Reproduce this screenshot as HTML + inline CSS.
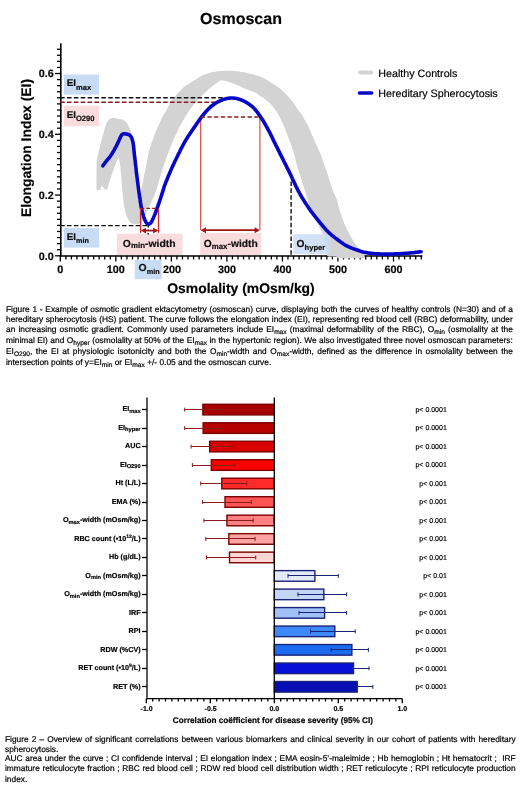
<!DOCTYPE html>
<html><head><meta charset="utf-8"><style>
html,body{margin:0;padding:0;background:#fff;}
body{width:520px;height:799px;position:relative;overflow:hidden;font-family:"Liberation Sans",sans-serif;text-rendering:geometricPrecision;}
svg{position:absolute;left:0;top:0;will-change:transform;}
svg text{font-family:"Liberation Sans",sans-serif;stroke:#000;stroke-width:0.18px;}
.cl{position:absolute;will-change:transform;font-size:8.35px;line-height:10px;height:10px;white-space:nowrap;color:#000;-webkit-text-stroke:0.2px #000;}
.cl.j{text-align:justify;text-align-last:justify;white-space:nowrap;}
.cl sub{font-size:6.6px;vertical-align:-1.7px;line-height:0;}
</style></head><body>
<svg width="520" height="799" viewBox="0 0 520 799">

<text x="241" y="24.2" font-size="16" font-weight="bold" text-anchor="middle">Osmoscan</text>
<!-- axes -->
<g stroke="#000" stroke-width="1.3">
<line x1="60.8" y1="43.2" x2="60.8" y2="256.6" stroke-width="1.6"/>
<line x1="60" y1="256" x2="422.4" y2="256" stroke-width="1.6"/>
<line x1="55.0" y1="255.80" x2="61" y2="255.80"/>
<line x1="57.0" y1="249.72" x2="61" y2="249.72"/>
<line x1="57.0" y1="243.65" x2="61" y2="243.65"/>
<line x1="57.0" y1="237.57" x2="61" y2="237.57"/>
<line x1="57.0" y1="231.50" x2="61" y2="231.50"/>
<line x1="57.0" y1="225.42" x2="61" y2="225.42"/>
<line x1="57.0" y1="219.34" x2="61" y2="219.34"/>
<line x1="57.0" y1="213.27" x2="61" y2="213.27"/>
<line x1="57.0" y1="207.19" x2="61" y2="207.19"/>
<line x1="57.0" y1="201.12" x2="61" y2="201.12"/>
<line x1="55.0" y1="195.04" x2="61" y2="195.04"/>
<line x1="57.0" y1="188.96" x2="61" y2="188.96"/>
<line x1="57.0" y1="182.89" x2="61" y2="182.89"/>
<line x1="57.0" y1="176.81" x2="61" y2="176.81"/>
<line x1="57.0" y1="170.74" x2="61" y2="170.74"/>
<line x1="57.0" y1="164.66" x2="61" y2="164.66"/>
<line x1="57.0" y1="158.58" x2="61" y2="158.58"/>
<line x1="57.0" y1="152.51" x2="61" y2="152.51"/>
<line x1="57.0" y1="146.43" x2="61" y2="146.43"/>
<line x1="57.0" y1="140.36" x2="61" y2="140.36"/>
<line x1="55.0" y1="134.28" x2="61" y2="134.28"/>
<line x1="57.0" y1="128.20" x2="61" y2="128.20"/>
<line x1="57.0" y1="122.13" x2="61" y2="122.13"/>
<line x1="57.0" y1="116.05" x2="61" y2="116.05"/>
<line x1="57.0" y1="109.98" x2="61" y2="109.98"/>
<line x1="57.0" y1="103.90" x2="61" y2="103.90"/>
<line x1="57.0" y1="97.82" x2="61" y2="97.82"/>
<line x1="57.0" y1="91.75" x2="61" y2="91.75"/>
<line x1="57.0" y1="85.67" x2="61" y2="85.67"/>
<line x1="57.0" y1="79.60" x2="61" y2="79.60"/>
<line x1="55.0" y1="73.52" x2="61" y2="73.52"/>
<line x1="57.0" y1="67.44" x2="61" y2="67.44"/>
<line x1="57.0" y1="61.37" x2="61" y2="61.37"/>
<line x1="57.0" y1="55.29" x2="61" y2="55.29"/>
<line x1="57.0" y1="49.22" x2="61" y2="49.22"/>
<line x1="60.30" y1="255.8" x2="60.30" y2="261.5"/>
<line x1="65.85" y1="255.8" x2="65.85" y2="259.5"/>
<line x1="71.41" y1="255.8" x2="71.41" y2="259.5"/>
<line x1="76.96" y1="255.8" x2="76.96" y2="259.5"/>
<line x1="82.51" y1="255.8" x2="82.51" y2="259.5"/>
<line x1="88.06" y1="255.8" x2="88.06" y2="259.5"/>
<line x1="93.62" y1="255.8" x2="93.62" y2="259.5"/>
<line x1="99.17" y1="255.8" x2="99.17" y2="259.5"/>
<line x1="104.72" y1="255.8" x2="104.72" y2="259.5"/>
<line x1="110.28" y1="255.8" x2="110.28" y2="259.5"/>
<line x1="115.83" y1="255.8" x2="115.83" y2="261.5"/>
<line x1="121.38" y1="255.8" x2="121.38" y2="259.5"/>
<line x1="126.94" y1="255.8" x2="126.94" y2="259.5"/>
<line x1="132.49" y1="255.8" x2="132.49" y2="259.5"/>
<line x1="138.04" y1="255.8" x2="138.04" y2="259.5"/>
<line x1="143.59" y1="255.8" x2="143.59" y2="259.5"/>
<line x1="149.15" y1="255.8" x2="149.15" y2="259.5"/>
<line x1="154.70" y1="255.8" x2="154.70" y2="259.5"/>
<line x1="160.25" y1="255.8" x2="160.25" y2="259.5"/>
<line x1="165.81" y1="255.8" x2="165.81" y2="259.5"/>
<line x1="171.36" y1="255.8" x2="171.36" y2="261.5"/>
<line x1="176.91" y1="255.8" x2="176.91" y2="259.5"/>
<line x1="182.47" y1="255.8" x2="182.47" y2="259.5"/>
<line x1="188.02" y1="255.8" x2="188.02" y2="259.5"/>
<line x1="193.57" y1="255.8" x2="193.57" y2="259.5"/>
<line x1="199.12" y1="255.8" x2="199.12" y2="259.5"/>
<line x1="204.68" y1="255.8" x2="204.68" y2="259.5"/>
<line x1="210.23" y1="255.8" x2="210.23" y2="259.5"/>
<line x1="215.78" y1="255.8" x2="215.78" y2="259.5"/>
<line x1="221.34" y1="255.8" x2="221.34" y2="259.5"/>
<line x1="226.89" y1="255.8" x2="226.89" y2="261.5"/>
<line x1="232.44" y1="255.8" x2="232.44" y2="259.5"/>
<line x1="238.00" y1="255.8" x2="238.00" y2="259.5"/>
<line x1="243.55" y1="255.8" x2="243.55" y2="259.5"/>
<line x1="249.10" y1="255.8" x2="249.10" y2="259.5"/>
<line x1="254.66" y1="255.8" x2="254.66" y2="259.5"/>
<line x1="260.21" y1="255.8" x2="260.21" y2="259.5"/>
<line x1="265.76" y1="255.8" x2="265.76" y2="259.5"/>
<line x1="271.31" y1="255.8" x2="271.31" y2="259.5"/>
<line x1="276.87" y1="255.8" x2="276.87" y2="259.5"/>
<line x1="282.42" y1="255.8" x2="282.42" y2="261.5"/>
<line x1="287.97" y1="255.8" x2="287.97" y2="259.5"/>
<line x1="293.53" y1="255.8" x2="293.53" y2="259.5"/>
<line x1="299.08" y1="255.8" x2="299.08" y2="259.5"/>
<line x1="304.63" y1="255.8" x2="304.63" y2="259.5"/>
<line x1="310.19" y1="255.8" x2="310.19" y2="259.5"/>
<line x1="315.74" y1="255.8" x2="315.74" y2="259.5"/>
<line x1="321.29" y1="255.8" x2="321.29" y2="259.5"/>
<line x1="326.84" y1="255.8" x2="326.84" y2="259.5"/>
<line x1="332.40" y1="255.8" x2="332.40" y2="259.5"/>
<line x1="337.95" y1="255.8" x2="337.95" y2="261.5"/>
<line x1="343.50" y1="255.8" x2="343.50" y2="259.5"/>
<line x1="349.06" y1="255.8" x2="349.06" y2="259.5"/>
<line x1="354.61" y1="255.8" x2="354.61" y2="259.5"/>
<line x1="360.16" y1="255.8" x2="360.16" y2="259.5"/>
<line x1="365.72" y1="255.8" x2="365.72" y2="259.5"/>
<line x1="371.27" y1="255.8" x2="371.27" y2="259.5"/>
<line x1="376.82" y1="255.8" x2="376.82" y2="259.5"/>
<line x1="382.37" y1="255.8" x2="382.37" y2="259.5"/>
<line x1="387.93" y1="255.8" x2="387.93" y2="259.5"/>
<line x1="393.48" y1="255.8" x2="393.48" y2="261.5"/>
<line x1="399.03" y1="255.8" x2="399.03" y2="259.5"/>
<line x1="404.59" y1="255.8" x2="404.59" y2="259.5"/>
<line x1="410.14" y1="255.8" x2="410.14" y2="259.5"/>
<line x1="415.69" y1="255.8" x2="415.69" y2="259.5"/>
<line x1="421.25" y1="255.8" x2="421.25" y2="259.5"/>
</g>
<!-- gray band -->
<polygon points="96.6,189.6 96.6,189.1 96.6,188.4 96.6,187.6 96.5,186.8 96.5,186.0 96.5,185.2 96.5,184.4 96.5,183.6 96.5,182.8 96.4,182.0 96.4,181.2 96.4,180.4 96.4,179.6 96.4,178.8 96.4,178.0 96.4,177.2 96.4,176.4 96.4,175.6 96.5,174.8 96.5,174.0 96.5,173.2 96.5,172.4 96.5,171.6 96.5,170.8 96.5,170.0 96.5,169.2 96.5,168.4 96.6,167.6 96.6,166.8 96.6,166.0 96.6,165.2 96.7,164.4 96.7,163.6 96.7,162.8 96.7,162.0 96.8,161.2 96.8,160.4 96.9,159.6 97.1,158.8 97.2,158.1 97.4,157.3 97.6,156.5 97.8,155.7 97.9,154.9 98.1,154.2 98.3,153.4 98.5,152.6 98.7,151.8 98.8,151.0 99.0,150.3 99.2,149.5 99.4,148.7 99.6,147.9 99.8,147.2 100.0,146.4 100.2,145.6 100.4,144.8 100.6,144.1 100.8,143.3 101.0,142.5 101.2,141.7 101.4,141.0 101.6,140.2 101.8,139.4 102.0,138.6 102.2,137.9 102.4,137.1 102.7,136.3 102.9,135.6 103.1,134.8 103.3,134.0 103.5,133.2 103.7,132.5 103.9,131.7 104.1,130.9 104.3,130.1 104.5,129.4 104.7,128.6 105.0,127.8 105.2,127.1 105.4,126.3 105.7,125.5 105.9,124.8 106.3,124.1 106.6,123.3 106.9,122.6 107.2,121.9 107.6,121.2 108.0,120.5 108.5,119.9 109.1,119.4 109.7,118.9 110.3,118.4 111.0,118.0 111.7,117.9 112.5,117.8 113.3,117.8 114.1,117.9 114.9,118.0 115.6,118.2 116.4,118.4 117.1,118.7 117.9,119.0 118.7,119.2 119.4,119.3 120.2,119.3 121.0,119.3 121.8,119.4 122.6,119.5 123.3,119.8 124.0,120.2 124.6,120.7 125.2,121.2 125.8,121.7 126.3,122.3 126.8,122.9 127.3,123.6 127.7,124.3 128.0,125.0 128.4,125.7 128.7,126.4 129.0,127.2 129.3,127.9 129.6,128.6 130.0,129.4 130.3,130.1 130.6,130.8 130.9,131.6 131.1,132.3 131.3,133.1 131.5,133.9 131.7,134.7 131.8,135.4 132.0,136.2 132.2,137.0 132.3,137.8 132.4,138.6 132.5,139.4 132.6,140.2 132.7,141.0 132.8,141.8 132.9,142.6 133.0,143.4 133.1,144.1 133.2,144.9 133.3,145.7 133.4,146.5 133.5,147.3 133.6,148.1 133.7,148.9 133.8,149.7 133.9,150.5 134.0,151.3 134.1,152.1 134.2,152.9 134.3,153.7 134.4,154.5 134.5,155.3 134.6,156.1 134.6,156.8 134.7,157.6 134.8,158.4 134.9,159.2 135.0,160.0 135.1,160.8 135.2,161.6 135.3,162.4 135.4,163.2 135.5,164.0 135.6,164.8 135.7,165.6 135.8,166.4 135.9,167.2 135.9,168.0 136.0,168.8 136.1,169.6 136.2,170.4 136.3,171.2 136.4,171.9 136.5,172.7 136.6,173.5 136.7,174.3 136.8,175.1 136.9,175.9 137.0,176.7 137.1,177.5 137.1,178.3 137.2,179.1 137.3,179.9 137.4,180.7 137.5,181.5 137.6,182.3 137.7,183.1 137.8,183.9 137.9,184.7 138.0,185.4 138.1,186.2 138.2,187.0 138.3,187.8 138.4,188.6 138.5,189.4 138.6,190.2 138.8,191.0 138.9,191.8 139.0,192.6 139.1,193.4 139.2,194.1 139.4,194.8 139.5,195.2 139.7,195.1 139.9,194.6 140.1,193.9 140.3,193.2 140.5,192.4 140.7,191.6 140.9,190.8 141.1,190.1 141.3,189.3 141.5,188.5 141.7,187.7 141.8,186.9 142.0,186.2 142.1,185.4 142.3,184.6 142.5,183.8 142.6,183.0 142.8,182.2 143.0,181.5 143.1,180.7 143.3,179.9 143.4,179.1 143.6,178.3 143.7,177.5 143.9,176.8 144.0,176.0 144.2,175.2 144.3,174.4 144.5,173.6 144.7,172.8 144.8,172.0 145.0,171.3 145.1,170.5 145.3,169.7 145.5,168.9 145.6,168.1 145.8,167.3 146.0,166.6 146.1,165.8 146.3,165.0 146.4,164.2 146.6,163.4 146.7,162.6 146.9,161.9 147.0,161.1 147.2,160.3 147.3,159.5 147.5,158.7 147.7,157.9 147.8,157.1 148.0,156.4 148.1,155.6 148.3,154.8 148.4,154.0 148.6,153.2 148.7,152.4 148.9,151.6 149.0,150.9 149.2,150.1 149.4,149.3 149.7,148.6 149.9,147.8 150.2,147.0 150.4,146.3 150.7,145.5 150.9,144.7 151.2,144.0 151.4,143.2 151.7,142.5 152.0,141.7 152.3,141.0 152.5,140.2 152.8,139.5 153.1,138.7 153.4,138.0 153.7,137.2 154.0,136.5 154.3,135.8 154.5,135.0 154.8,134.3 155.1,133.5 155.4,132.8 155.7,132.0 156.0,131.3 156.3,130.5 156.6,129.8 156.9,129.1 157.2,128.3 157.6,127.6 157.9,126.9 158.2,126.1 158.6,125.4 158.9,124.7 159.2,124.0 159.5,123.2 159.9,122.5 160.2,121.8 160.5,121.0 160.9,120.3 161.2,119.6 161.5,118.8 161.8,118.1 162.2,117.4 162.5,116.7 162.9,116.0 163.3,115.3 163.7,114.6 164.1,113.9 164.5,113.2 164.9,112.5 165.4,111.9 165.8,111.2 166.2,110.5 166.6,109.8 167.0,109.1 167.4,108.4 167.8,107.7 168.1,107.0 168.5,106.3 168.9,105.6 169.3,104.9 169.7,104.2 170.1,103.5 170.5,102.8 170.9,102.1 171.3,101.5 171.8,100.8 172.2,100.1 172.6,99.4 173.1,98.8 173.6,98.2 174.1,97.6 174.6,97.0 175.2,96.4 175.7,95.7 176.2,95.1 176.7,94.5 177.3,93.9 177.8,93.3 178.3,92.7 178.9,92.1 179.4,91.6 180.0,91.0 180.5,90.4 181.1,89.9 181.7,89.3 182.2,88.7 182.8,88.1 183.3,87.6 183.9,87.0 184.5,86.5 185.2,86.1 185.9,85.6 186.5,85.2 187.2,84.7 187.9,84.3 188.5,83.9 189.2,83.4 189.9,83.0 190.6,82.6 191.2,82.2 191.9,81.7 192.6,81.3 193.3,80.9 194.0,80.5 194.7,80.1 195.3,79.7 196.0,79.2 196.7,78.8 197.4,78.4 198.0,77.9 198.7,77.5 199.4,77.1 200.1,76.7 200.8,76.3 201.5,76.0 202.2,75.6 202.9,75.3 203.7,74.9 204.4,74.6 205.1,74.3 205.9,74.1 206.7,73.8 207.4,73.6 208.2,73.4 209.0,73.1 209.7,72.9 210.5,72.6 211.2,72.4 212.0,72.2 212.8,72.1 213.6,71.9 214.4,71.8 215.2,71.7 216.0,71.6 216.8,71.4 217.5,71.3 218.3,71.2 219.1,71.1 219.9,71.0 220.7,71.0 221.5,70.9 222.3,70.9 223.1,70.9 223.9,70.8 224.7,70.8 225.5,70.8 226.3,70.7 227.1,70.7 227.9,70.7 228.7,70.7 229.5,70.7 230.3,70.8 231.1,70.8 231.9,70.8 232.7,70.8 233.5,70.9 234.3,70.9 235.1,71.0 235.9,71.1 236.7,71.2 237.5,71.2 238.3,71.3 239.1,71.5 239.9,71.6 240.7,71.7 241.4,71.9 242.2,72.0 243.0,72.2 243.8,72.3 244.6,72.4 245.4,72.6 246.2,72.8 246.9,72.9 247.7,73.1 248.5,73.3 249.3,73.5 250.0,73.7 250.8,73.9 251.6,74.0 252.4,74.2 253.2,74.4 253.9,74.6 254.7,74.9 255.5,75.1 256.2,75.4 257.0,75.6 257.7,75.8 258.5,76.1 259.3,76.3 260.0,76.5 260.8,76.8 261.5,77.1 262.3,77.4 263.0,77.8 263.7,78.2 264.4,78.6 265.1,78.9 265.8,79.3 266.5,79.7 267.2,80.1 267.9,80.5 268.6,80.9 269.2,81.3 269.9,81.8 270.6,82.2 271.2,82.7 271.9,83.1 272.6,83.5 273.2,84.0 273.9,84.4 274.6,84.9 275.2,85.3 275.9,85.7 276.6,86.2 277.2,86.6 277.9,87.1 278.6,87.5 279.2,88.0 279.9,88.5 280.5,89.0 281.1,89.5 281.7,90.0 282.3,90.5 282.9,91.0 283.5,91.6 284.1,92.1 284.7,92.7 285.2,93.3 285.8,93.8 286.3,94.4 286.9,95.0 287.4,95.6 287.9,96.2 288.5,96.8 289.0,97.4 289.5,98.0 290.0,98.6 290.6,99.2 291.1,99.8 291.6,100.5 292.1,101.1 292.6,101.7 293.1,102.3 293.5,103.0 294.0,103.6 294.5,104.3 294.9,104.9 295.3,105.6 295.7,106.3 296.1,107.0 296.6,107.7 297.0,108.4 297.4,109.0 297.9,109.7 298.3,110.3 298.8,111.0 299.3,111.6 299.8,112.2 300.3,112.8 300.8,113.4 301.3,114.1 301.8,114.7 302.2,115.4 302.6,116.1 303.0,116.8 303.4,117.5 303.8,118.2 304.2,118.8 304.6,119.5 305.0,120.2 305.4,120.9 305.8,121.6 306.2,122.3 306.6,123.0 307.0,123.7 307.4,124.4 307.8,125.1 308.2,125.8 308.5,126.5 308.8,127.3 309.1,128.0 309.4,128.8 309.7,129.5 310.1,130.2 310.4,131.0 310.7,131.7 311.0,132.4 311.3,133.2 311.6,133.9 311.9,134.6 312.3,135.4 312.6,136.1 312.9,136.8 313.2,137.6 313.5,138.3 313.8,139.0 314.2,139.8 314.5,140.5 314.8,141.2 315.1,142.0 315.5,142.7 315.8,143.4 316.1,144.2 316.5,144.9 316.8,145.6 317.1,146.3 317.5,147.1 317.8,147.8 318.1,148.5 318.4,149.3 318.8,150.0 319.1,150.7 319.4,151.5 319.7,152.2 320.1,152.9 320.4,153.7 320.7,154.4 321.0,155.1 321.2,155.9 321.5,156.6 321.8,157.4 322.0,158.2 322.3,158.9 322.5,159.7 322.8,160.4 323.1,161.2 323.3,161.9 323.6,162.7 323.8,163.5 324.1,164.2 324.4,165.0 324.6,165.7 324.9,166.5 325.2,167.2 325.4,168.0 325.7,168.7 326.0,169.5 326.2,170.2 326.5,171.0 326.8,171.8 327.0,172.5 327.3,173.3 327.6,174.0 327.8,174.8 328.0,175.5 328.3,176.3 328.5,177.1 328.7,177.8 328.9,178.6 329.2,179.4 329.4,180.1 329.6,180.9 329.9,181.7 330.1,182.4 330.3,183.2 330.6,184.0 330.8,184.7 331.1,185.5 331.4,186.2 331.6,187.0 331.9,187.7 332.2,188.5 332.4,189.2 332.7,190.0 333.0,190.8 333.3,191.5 333.5,192.3 333.9,193.0 334.2,193.7 334.5,194.4 334.9,195.2 335.2,195.9 335.6,196.6 335.9,197.3 336.3,198.0 336.6,198.8 336.9,199.5 337.1,200.3 337.4,201.0 337.6,201.8 337.7,202.6 337.9,203.4 338.1,204.1 338.3,204.9 338.5,205.7 338.7,206.5 338.9,207.2 339.1,208.0 339.3,208.8 339.5,209.6 339.8,210.3 340.0,211.1 340.2,211.9 340.5,212.6 340.7,213.4 341.0,214.1 341.2,214.9 341.4,215.7 341.7,216.4 341.9,217.2 342.2,218.0 342.4,218.7 342.7,219.5 343.0,220.2 343.3,220.9 343.6,221.7 343.9,222.4 344.2,223.2 344.5,223.9 344.8,224.6 345.1,225.4 345.4,226.1 345.8,226.9 346.1,227.6 346.4,228.3 346.8,229.0 347.1,229.7 347.5,230.5 347.9,231.2 348.2,231.9 348.6,232.6 348.9,233.3 349.3,234.0 349.7,234.7 350.1,235.4 350.5,236.1 350.9,236.8 351.3,237.5 351.7,238.2 352.1,238.9 352.5,239.5 353.0,240.2 353.4,240.9 353.8,241.6 354.3,242.2 354.7,242.9 355.1,243.6 355.6,244.2 356.0,244.9 356.5,245.5 357.0,246.2 357.5,246.8 358.0,247.4 358.5,248.0 359.0,248.6 359.6,249.2 360.2,249.7 360.8,250.2 361.4,250.8 361.9,251.4 362.4,252.0 362.9,252.7 363.3,253.3 363.7,254.0 364.1,254.7 364.4,255.5 364.7,256.2 364.9,256.9 364.9,257.6 364.7,258.0 364.2,258.2 363.5,258.3 362.7,258.3 361.9,258.3 361.1,258.3 360.3,258.3 359.5,258.3 358.7,258.3 357.9,258.3 357.1,258.3 356.3,258.3 355.5,258.3 354.7,258.3 353.9,258.3 353.1,258.3 352.3,258.3 351.5,258.3 350.7,258.3 349.9,258.3 349.1,258.3 348.3,258.3 347.5,258.3 346.7,258.3 345.9,258.3 345.1,258.3 344.3,258.3 343.5,258.3 342.7,258.3 341.9,258.3 341.1,258.3 340.3,258.3 339.5,258.3 338.7,258.2 338.1,258.1 337.5,257.7 337.1,257.2 336.6,256.8 335.9,256.5 335.2,256.4 334.4,256.4 333.6,256.4 332.8,256.4 332.0,256.4 331.2,256.4 330.4,256.4 329.6,256.4 328.8,256.4 328.1,256.3 327.5,256.1 327.1,255.6 326.9,255.0 326.9,254.2 326.8,253.4 326.7,252.6 326.7,251.8 326.6,251.0 326.6,250.2 326.5,249.4 326.5,248.6 326.4,247.8 326.4,247.0 326.3,246.2 326.2,245.5 326.1,244.7 325.9,243.9 325.8,243.1 325.6,242.3 325.5,241.5 325.4,240.7 325.2,239.9 325.1,239.2 324.9,238.4 324.7,237.6 324.4,236.9 324.1,236.2 323.7,235.5 323.3,234.8 322.9,234.0 322.5,233.3 322.2,232.6 321.8,231.9 321.4,231.2 321.0,230.5 320.6,229.8 320.3,229.1 319.9,228.4 319.5,227.7 319.1,227.0 318.7,226.3 318.4,225.6 318.0,224.9 317.6,224.2 317.2,223.5 316.9,222.8 316.5,222.1 316.2,221.3 315.8,220.6 315.5,219.9 315.1,219.2 314.7,218.5 314.4,217.8 314.0,217.0 313.7,216.3 313.4,215.6 313.1,214.8 312.7,214.1 312.4,213.4 312.1,212.6 311.8,211.9 311.5,211.2 311.1,210.4 310.8,209.7 310.6,209.0 310.3,208.2 310.1,207.4 309.8,206.7 309.6,205.9 309.4,205.1 309.1,204.4 308.9,203.6 308.7,202.8 308.4,202.1 308.2,201.3 308.0,200.5 307.8,199.8 307.5,199.0 307.3,198.2 307.1,197.5 306.8,196.7 306.6,195.9 306.4,195.2 306.1,194.4 305.9,193.7 305.7,192.9 305.4,192.1 305.2,191.4 304.9,190.6 304.7,189.8 304.4,189.1 304.1,188.3 303.9,187.6 303.6,186.8 303.4,186.1 303.1,185.3 302.9,184.5 302.6,183.8 302.4,183.0 302.1,182.3 301.9,181.5 301.7,180.7 301.4,180.0 301.2,179.2 301.0,178.4 300.8,177.7 300.5,176.9 300.3,176.1 300.1,175.4 299.8,174.6 299.6,173.8 299.4,173.1 299.1,172.3 298.9,171.5 298.7,170.8 298.5,170.0 298.2,169.2 298.0,168.5 297.8,167.7 297.5,166.9 297.3,166.2 297.1,165.4 296.8,164.6 296.6,163.9 296.4,163.1 296.2,162.3 296.0,161.5 295.8,160.8 295.6,160.0 295.5,159.2 295.3,158.4 295.1,157.7 294.9,156.9 294.7,156.1 294.5,155.3 294.3,154.6 294.1,153.8 293.8,153.0 293.6,152.3 293.4,151.5 293.1,150.7 292.9,150.0 292.7,149.2 292.4,148.4 292.2,147.7 291.9,146.9 291.7,146.2 291.4,145.4 291.1,144.7 290.8,143.9 290.5,143.2 290.2,142.5 289.9,141.7 289.6,141.0 289.3,140.2 289.0,139.5 288.7,138.7 288.4,138.0 288.2,137.2 287.9,136.5 287.6,135.7 287.3,135.0 287.0,134.2 286.8,133.5 286.5,132.7 286.2,132.0 285.9,131.2 285.6,130.5 285.3,129.7 285.0,129.0 284.7,128.3 284.4,127.5 284.1,126.8 283.8,126.0 283.5,125.3 283.2,124.6 282.8,123.9 282.5,123.1 282.2,122.4 281.8,121.7 281.5,120.9 281.2,120.2 280.8,119.5 280.5,118.8 280.1,118.1 279.8,117.3 279.4,116.6 279.0,115.9 278.7,115.2 278.3,114.5 277.9,113.8 277.5,113.1 277.1,112.4 276.6,111.8 276.2,111.1 275.7,110.5 275.2,109.8 274.8,109.2 274.3,108.5 273.8,107.9 273.3,107.3 272.8,106.6 272.3,106.0 271.8,105.4 271.3,104.8 270.8,104.2 270.2,103.6 269.6,103.0 269.1,102.5 268.5,101.9 267.9,101.4 267.3,100.9 266.7,100.4 266.0,99.9 265.4,99.4 264.7,99.0 264.1,98.5 263.4,98.1 262.7,97.6 262.1,97.2 261.4,96.8 260.7,96.3 260.1,95.9 259.4,95.4 258.7,95.0 258.1,94.5 257.4,94.0 256.8,93.6 256.1,93.1 255.5,92.7 254.8,92.3 254.0,92.0 253.3,91.7 252.5,91.4 251.8,91.2 251.0,90.9 250.3,90.6 249.5,90.4 248.8,90.1 248.0,89.8 247.3,89.6 246.5,89.3 245.8,89.0 245.0,88.7 244.3,88.4 243.6,88.0 242.8,87.7 242.1,87.4 241.4,87.0 240.7,86.7 240.0,86.3 239.2,86.0 238.5,85.6 237.8,85.3 237.1,85.0 236.3,84.7 235.6,84.4 234.8,84.1 234.1,83.8 233.3,83.5 232.6,83.2 231.8,82.9 231.1,82.7 230.3,82.4 229.6,82.2 228.8,81.9 228.0,81.7 227.3,81.5 226.5,81.3 225.7,81.2 224.9,81.0 224.1,80.8 223.4,80.6 222.6,80.4 221.8,80.3 221.1,80.3 220.4,80.5 219.7,80.8 219.0,81.2 218.4,81.7 217.7,82.2 217.1,82.7 216.5,83.1 215.8,83.6 215.2,84.1 214.5,84.6 213.9,85.1 213.3,85.6 212.6,86.0 212.0,86.5 211.4,87.0 210.8,87.5 210.1,88.0 209.5,88.6 208.9,89.1 208.3,89.6 207.7,90.1 207.1,90.7 206.5,91.2 205.9,91.7 205.3,92.3 204.7,92.8 204.2,93.4 203.6,93.9 203.0,94.5 202.4,95.0 201.9,95.6 201.3,96.1 200.7,96.7 200.2,97.3 199.6,97.9 199.1,98.4 198.5,99.0 198.0,99.6 197.5,100.2 196.9,100.8 196.4,101.4 195.9,102.0 195.4,102.7 194.9,103.3 194.4,103.9 193.9,104.5 193.4,105.1 192.9,105.8 192.4,106.4 191.9,107.1 191.4,107.7 191.0,108.3 190.5,109.0 190.0,109.6 189.6,110.3 189.1,111.0 188.7,111.6 188.2,112.3 187.8,113.0 187.3,113.6 186.9,114.3 186.5,115.0 186.1,115.6 185.6,116.3 185.2,117.0 184.8,117.7 184.4,118.4 184.0,119.1 183.6,119.8 183.2,120.4 182.8,121.1 182.4,121.8 182.0,122.5 181.6,123.2 181.2,123.9 180.8,124.6 180.5,125.3 180.1,126.1 179.7,126.8 179.3,127.5 179.0,128.2 178.6,128.9 178.3,129.6 177.9,130.3 177.6,131.0 177.2,131.8 176.9,132.5 176.5,133.2 176.2,133.9 175.8,134.7 175.5,135.4 175.2,136.1 174.8,136.8 174.5,137.6 174.2,138.3 173.9,139.0 173.5,139.8 173.2,140.5 172.9,141.2 172.6,142.0 172.3,142.7 172.0,143.5 171.7,144.2 171.4,144.9 171.1,145.7 170.8,146.4 170.5,147.2 170.2,147.9 169.9,148.6 169.6,149.4 169.3,150.1 169.0,150.9 168.7,151.6 168.5,152.4 168.2,153.1 167.9,153.9 167.6,154.6 167.4,155.4 167.1,156.1 166.8,156.9 166.5,157.6 166.3,158.4 166.0,159.1 165.7,159.9 165.5,160.7 165.2,161.4 164.9,162.2 164.7,162.9 164.4,163.7 164.2,164.4 163.9,165.2 163.7,166.0 163.4,166.7 163.2,167.5 162.9,168.2 162.7,169.0 162.4,169.8 162.2,170.5 162.0,171.3 161.7,172.0 161.5,172.8 161.2,173.6 161.0,174.3 160.8,175.1 160.5,175.9 160.3,176.6 160.1,177.4 159.8,178.2 159.6,178.9 159.4,179.7 159.1,180.5 158.9,181.2 158.7,182.0 158.5,182.8 158.3,183.5 158.0,184.3 157.8,185.1 157.6,185.8 157.4,186.6 157.2,187.4 156.9,188.2 156.7,188.9 156.5,189.7 156.2,190.4 156.0,191.2 155.7,192.0 155.4,192.7 155.2,193.5 154.9,194.2 154.5,194.9 154.2,195.6 153.8,196.4 153.5,197.1 153.1,197.8 152.8,198.5 152.4,199.2 152.1,200.0 151.8,200.7 151.5,201.5 151.2,202.2 150.9,202.9 150.6,203.7 150.3,204.4 150.0,205.2 149.7,205.9 149.3,206.6 149.0,207.3 148.7,208.1 148.3,208.8 148.0,209.5 147.6,210.2 147.3,211.0 146.9,211.7 146.6,212.4 146.2,213.1 145.8,213.8 145.5,214.5 145.1,215.2 144.8,216.0 144.4,216.7 144.1,217.4 143.7,218.1 143.3,218.8 142.9,219.5 142.5,220.2 142.1,220.9 141.6,221.5 141.1,222.1 140.6,222.7 140.0,223.2 139.3,223.6 138.6,223.9 137.9,224.1 137.1,224.2 136.3,224.3 135.5,224.3 134.7,224.2 133.9,224.1 133.2,223.9 132.4,223.7 131.7,223.4 131.0,223.0 130.4,222.5 129.9,221.9 129.4,221.3 128.9,220.7 128.5,220.0 128.0,219.3 127.7,218.6 127.4,217.9 127.1,217.1 126.8,216.4 126.5,215.6 126.2,214.9 126.0,214.2 125.7,213.4 125.5,212.6 125.3,211.9 125.1,211.1 125.0,210.3 124.8,209.5 124.6,208.7 124.5,207.9 124.3,207.2 124.2,206.4 124.0,205.6 123.9,204.8 123.8,204.0 123.7,203.2 123.6,202.4 123.5,201.6 123.4,200.8 123.3,200.0 123.2,199.2 123.1,198.4 123.0,197.6 122.9,196.9 122.8,196.1 122.7,195.3 122.7,194.5 122.6,193.7 122.5,192.9 122.5,192.1 122.4,191.3 122.3,190.5 122.3,189.7 122.2,188.9 122.1,188.1 122.1,187.3 122.0,186.5 122.0,185.7 121.9,184.9 121.8,184.1 121.8,183.3 121.7,182.5 121.6,181.7 121.6,180.9 121.5,180.1 121.4,179.3 121.4,178.5 121.3,177.7 121.3,176.9 121.2,176.1 121.1,175.3 121.1,174.5 121.0,173.7 120.9,172.9 120.8,172.1 120.8,171.3 120.7,170.5 120.6,169.8 120.6,169.0 120.5,168.2 120.4,167.4 120.3,166.6 120.3,165.8 120.1,165.0 120.0,164.2 119.8,163.4 119.7,162.6 119.5,161.8 119.3,161.1 119.1,160.3 119.0,159.5 118.8,158.8 118.6,158.1 118.4,157.8 118.1,157.9 117.9,158.4 117.6,159.1 117.3,159.8 117.0,160.6 116.7,161.3 116.4,162.0 116.1,162.8 115.8,163.5 115.5,164.3 115.3,165.0 115.0,165.8 114.7,166.5 114.4,167.3 114.1,168.0 113.9,168.8 113.6,169.5 113.3,170.3 113.0,171.0 112.8,171.8 112.5,172.5 112.2,173.3 112.0,174.1 111.7,174.8 111.5,175.6 111.2,176.3 111.0,177.1 110.7,177.9 110.5,178.6 110.2,179.4 110.0,180.1 109.7,180.9 109.5,181.7 109.3,182.4 109.0,183.2 108.8,184.0 108.6,184.7 108.4,185.5 108.2,186.3 108.0,187.1 107.8,187.8 107.5,188.5 107.2,189.0 106.6,189.3 105.9,189.4 105.1,189.4 104.5,189.2 104.0,188.9 103.7,188.3 103.6,187.6 103.4,187.0 103.0,186.5 102.5,186.3 101.8,186.3 101.2,186.5 100.8,186.9 100.7,187.5 100.6,188.3 100.5,189.0 100.3,189.5 99.8,189.9 99.1,190.0 98.3,190.0 97.6,190.0 97.1,190.0 96.7,189.9" fill="#d3d3d3"/>
<!-- boxes -->
<rect x="64" y="74.4" width="35" height="20.2" fill="#c9dcf5"/>
<rect x="64" y="105.7" width="35" height="20.6" fill="#f9dcdd"/>
<rect x="64" y="228" width="35.2" height="19.6" fill="#c9dcf5"/>
<rect x="116.9" y="233.7" width="65.6" height="21.3" fill="#f9dcdd"/>
<rect x="200.3" y="233" width="61" height="22" fill="#f9dcdd"/>
<rect x="293.2" y="234.2" width="37.2" height="19.8" fill="#c9dcf5" fill-opacity="0.82"/>
<rect x="134.8" y="260" width="26.9" height="19.2" fill="#c9dcf5"/>
<!-- red omax verticals -->
<g stroke="#e03a3a" stroke-width="1.1" fill="none">
<line x1="200.7" y1="117" x2="200.7" y2="230"/>
<line x1="259.9" y1="117" x2="259.9" y2="230"/>
</g>
<!-- dashed lines -->
<g stroke-width="1.4" fill="none" stroke-dasharray="4.6 2.27">
<line x1="60.1" y1="97.7" x2="229" y2="97.7" stroke="#111"/>
<line x1="60.1" y1="102.2" x2="219" y2="102.2" stroke="#8b1c1c"/>
<line x1="60.1" y1="225.6" x2="147" y2="225.6" stroke="#111"/>
<line x1="291.1" y1="181.5" x2="291.1" y2="255.8" stroke="#111"/>
<line x1="148.2" y1="226" x2="148.2" y2="236" stroke="#111" stroke-dasharray="1.5 2"/>
</g>
<!-- arrows -->
<g stroke="#a01515" stroke-width="1.7" fill="#a01515">
<line x1="203" y1="230.2" x2="257.6" y2="230.2"/>
<polygon points="200.7,230.2 206,227.2 206,233.2" stroke="none"/>
<polygon points="259.9,230.2 254.6,227.2 254.6,233.2" stroke="none"/>
<line x1="143.5" y1="230.6" x2="156.5" y2="230.6"/>
<polygon points="140.9,230.6 146,227.7 146,233.5" stroke="none"/>
<polygon points="158.2,230.6 153.1,227.7 153.1,233.5" stroke="none"/>
</g>
<!-- blue curve -->
<polyline points="102.9,165.8 103.1,165.4 103.5,164.9 103.9,164.3 104.4,163.7 104.8,163.0 105.3,162.4 105.8,161.8 106.3,161.1 106.8,160.5 107.3,159.9 107.8,159.3 108.4,158.7 108.9,158.1 109.4,157.5 109.9,156.8 110.3,156.2 110.8,155.5 111.2,154.9 111.6,154.2 112.1,153.5 112.5,152.8 112.9,152.1 113.3,151.5 113.7,150.8 114.1,150.1 114.5,149.4 114.9,148.7 115.3,148.0 115.6,147.3 116.0,146.6 116.4,145.9 116.8,145.2 117.1,144.4 117.5,143.7 117.8,143.0 118.2,142.3 118.5,141.5 118.8,140.8 119.1,140.1 119.4,139.3 119.8,138.6 120.1,137.9 120.4,137.2 120.8,136.4 121.1,135.8 121.6,135.1 122.0,134.6 122.5,134.1 123.1,133.9 123.8,133.8 124.5,133.8 125.2,133.9 126.0,134.0 126.7,134.1 127.5,134.2 128.2,134.4 128.9,134.7 129.5,135.1 130.1,135.6 130.6,136.2 131.1,136.8 131.5,137.4 131.8,138.2 132.1,138.9 132.3,139.7 132.5,140.4 132.7,141.2 132.9,142.0 133.0,142.8 133.2,143.6 133.3,144.3 133.4,145.1 133.6,145.9 133.6,146.7 133.7,147.5 133.8,148.3 133.9,149.1 133.9,149.9 134.0,150.7 134.1,151.5 134.2,152.3 134.2,153.1 134.3,153.9 134.4,154.7 134.5,155.5 134.6,156.3 134.7,157.1 134.8,157.9 134.9,158.7 135.0,159.4 135.1,160.2 135.2,161.0 135.3,161.8 135.3,162.6 135.4,163.4 135.5,164.2 135.6,165.0 135.7,165.8 135.8,166.6 135.9,167.4 136.0,168.2 136.1,169.0 136.1,169.8 136.2,170.6 136.3,171.4 136.4,172.2 136.5,173.0 136.6,173.8 136.7,174.5 136.8,175.3 136.9,176.1 137.0,176.9 137.1,177.7 137.2,178.5 137.3,179.3 137.4,180.1 137.5,180.9 137.6,181.7 137.7,182.5 137.8,183.3 137.9,184.1 138.0,184.9 138.1,185.7 138.2,186.5 138.3,187.2 138.4,188.0 138.5,188.8 138.6,189.6 138.7,190.4 138.8,191.2 138.9,192.0 139.0,192.8 139.1,193.6 139.3,194.4 139.4,195.2 139.5,196.0 139.6,196.8 139.7,197.5 139.9,198.3 140.0,199.1 140.1,199.9 140.2,200.7 140.3,201.5 140.4,202.3 140.6,203.1 140.7,203.9 140.8,204.7 140.9,205.5 141.1,206.2 141.2,207.0 141.4,207.8 141.6,208.6 141.7,209.4 141.9,210.2 142.1,210.9 142.2,211.7 142.4,212.5 142.6,213.3 142.8,214.0 143.1,214.8 143.3,215.6 143.5,216.3 143.8,217.1 144.1,217.8 144.3,218.6 144.6,219.3 144.9,220.1 145.3,220.8 145.6,221.5 146.0,222.2 146.4,222.8 146.9,223.4 147.5,223.8 148.1,224.1 148.7,224.1 149.3,224.0 149.9,223.7 150.4,223.2 150.9,222.6 151.4,221.9 151.8,221.3 152.2,220.6 152.5,219.8 152.8,219.1 153.2,218.4 153.5,217.7 153.8,216.9 154.1,216.2 154.4,215.4 154.7,214.7 155.0,214.0 155.3,213.2 155.6,212.5 155.9,211.7 156.1,211.0 156.4,210.2 156.7,209.5 157.0,208.7 157.2,208.0 157.5,207.2 157.8,206.5 158.0,205.7 158.3,204.9 158.5,204.2 158.8,203.4 159.1,202.7 159.3,201.9 159.6,201.2 159.8,200.4 160.1,199.6 160.3,198.9 160.6,198.1 160.8,197.4 161.1,196.6 161.3,195.8 161.6,195.1 161.8,194.3 162.1,193.6 162.3,192.8 162.6,192.0 162.8,191.3 163.0,190.5 163.3,189.7 163.5,189.0 163.7,188.2 163.9,187.4 164.2,186.7 164.4,185.9 164.7,185.2 165.0,184.4 165.3,183.7 165.6,182.9 165.9,182.2 166.2,181.4 166.5,180.7 166.8,180.0 167.1,179.2 167.4,178.5 167.7,177.7 168.0,177.0 168.3,176.3 168.6,175.5 168.9,174.8 169.2,174.1 169.5,173.3 169.9,172.6 170.2,171.8 170.5,171.1 170.8,170.4 171.1,169.6 171.4,168.9 171.8,168.2 172.1,167.4 172.4,166.7 172.8,166.0 173.1,165.3 173.4,164.5 173.8,163.8 174.1,163.1 174.4,162.4 174.8,161.6 175.1,160.9 175.5,160.2 175.8,159.5 176.2,158.7 176.5,158.0 176.9,157.3 177.2,156.6 177.6,155.9 177.9,155.2 178.3,154.4 178.6,153.7 179.0,153.0 179.4,152.3 179.7,151.6 180.1,150.9 180.4,150.1 180.8,149.4 181.1,148.7 181.5,148.0 181.9,147.3 182.2,146.6 182.6,145.9 183.0,145.2 183.4,144.5 183.7,143.8 184.1,143.1 184.5,142.4 184.9,141.7 185.3,141.0 185.7,140.3 186.1,139.6 186.5,138.9 187.0,138.2 187.4,137.6 187.8,136.9 188.2,136.2 188.7,135.5 189.1,134.9 189.6,134.2 190.0,133.5 190.5,132.9 190.9,132.2 191.4,131.6 191.8,130.9 192.3,130.3 192.7,129.6 193.2,128.9 193.6,128.3 194.1,127.6 194.5,126.9 195.0,126.3 195.4,125.6 195.9,125.0 196.3,124.3 196.8,123.6 197.2,123.0 197.7,122.3 198.1,121.7 198.6,121.0 199.1,120.3 199.5,119.7 200.0,119.0 200.5,118.4 200.9,117.8 201.4,117.1 201.9,116.5 202.4,115.8 202.9,115.2 203.4,114.6 203.9,114.0 204.4,113.4 204.9,112.8 205.5,112.1 206.0,111.6 206.5,111.0 207.1,110.4 207.6,109.8 208.2,109.2 208.8,108.7 209.3,108.1 209.9,107.6 210.5,107.0 211.1,106.5 211.7,106.0 212.3,105.5 213.0,105.0 213.6,104.5 214.3,104.1 214.9,103.6 215.6,103.2 216.3,102.8 217.0,102.4 217.7,102.0 218.4,101.6 219.1,101.3 219.8,101.0 220.6,100.6 221.3,100.3 222.0,100.0 222.8,99.7 223.5,99.4 224.3,99.2 225.1,99.0 225.8,98.7 226.6,98.6 227.4,98.4 228.2,98.3 229.0,98.2 229.8,98.1 230.5,98.0 231.3,98.0 232.1,98.0 232.9,98.0 233.7,98.1 234.5,98.2 235.3,98.3 236.1,98.4 236.9,98.6 237.7,98.8 238.4,99.0 239.2,99.2 240.0,99.4 240.7,99.7 241.5,100.0 242.2,100.3 242.9,100.6 243.7,101.0 244.4,101.3 245.1,101.7 245.8,102.1 246.5,102.5 247.1,102.9 247.8,103.3 248.5,103.8 249.1,104.2 249.8,104.7 250.4,105.2 251.1,105.7 251.7,106.2 252.3,106.7 252.9,107.2 253.5,107.8 254.0,108.3 254.6,108.9 255.1,109.5 255.6,110.1 256.1,110.7 256.6,111.3 257.1,112.0 257.6,112.6 258.1,113.3 258.5,113.9 259.0,114.6 259.5,115.2 259.9,115.9 260.4,116.5 260.8,117.2 261.3,117.9 261.7,118.5 262.1,119.2 262.6,119.9 263.0,120.6 263.4,121.2 263.8,121.9 264.2,122.6 264.6,123.3 265.0,124.0 265.4,124.7 265.8,125.4 266.2,126.1 266.6,126.8 267.0,127.5 267.4,128.2 267.7,128.9 268.1,129.6 268.5,130.3 268.9,131.0 269.3,131.7 269.6,132.4 270.0,133.1 270.4,133.8 270.7,134.6 271.1,135.3 271.4,136.0 271.8,136.7 272.1,137.4 272.4,138.2 272.8,138.9 273.1,139.6 273.5,140.3 273.8,141.1 274.2,141.8 274.5,142.5 274.9,143.2 275.2,143.9 275.6,144.7 275.9,145.4 276.3,146.1 276.7,146.8 277.0,147.5 277.4,148.2 277.7,148.9 278.1,149.7 278.4,150.4 278.8,151.1 279.2,151.8 279.5,152.5 279.9,153.2 280.2,154.0 280.6,154.7 280.9,155.4 281.3,156.1 281.7,156.8 282.0,157.5 282.4,158.2 282.7,159.0 283.1,159.7 283.4,160.4 283.8,161.1 284.2,161.8 284.5,162.5 284.9,163.3 285.2,164.0 285.6,164.7 286.0,165.4 286.3,166.1 286.7,166.8 287.0,167.6 287.4,168.3 287.7,169.0 288.1,169.7 288.5,170.4 288.8,171.1 289.2,171.8 289.5,172.6 289.9,173.3 290.2,174.0 290.6,174.7 290.9,175.4 291.2,176.2 291.6,176.9 291.9,177.6 292.3,178.3 292.6,179.1 292.9,179.8 293.3,180.5 293.6,181.2 294.0,182.0 294.3,182.7 294.6,183.4 295.0,184.1 295.3,184.9 295.6,185.6 296.0,186.3 296.3,187.0 296.7,187.8 297.0,188.5 297.4,189.2 297.8,189.9 298.1,190.6 298.5,191.3 298.9,192.0 299.3,192.7 299.7,193.4 300.0,194.1 300.4,194.8 300.8,195.5 301.2,196.2 301.6,196.9 302.0,197.6 302.4,198.3 302.9,199.0 303.3,199.6 303.7,200.3 304.2,201.0 304.6,201.7 305.0,202.3 305.4,203.0 305.9,203.7 306.3,204.3 306.8,205.0 307.2,205.7 307.7,206.3 308.1,207.0 308.5,207.7 309.0,208.3 309.4,209.0 309.9,209.7 310.4,210.3 310.8,211.0 311.3,211.6 311.8,212.2 312.3,212.9 312.8,213.5 313.2,214.1 313.7,214.8 314.2,215.4 314.7,216.0 315.2,216.7 315.7,217.3 316.2,217.9 316.7,218.5 317.2,219.2 317.7,219.8 318.2,220.4 318.7,221.0 319.2,221.6 319.7,222.3 320.2,222.9 320.7,223.5 321.3,224.1 321.8,224.7 322.3,225.4 322.8,226.0 323.3,226.6 323.8,227.2 324.3,227.8 324.9,228.4 325.4,229.0 325.9,229.6 326.5,230.2 327.0,230.7 327.6,231.3 328.2,231.9 328.7,232.4 329.3,233.0 329.9,233.5 330.5,234.1 331.1,234.6 331.7,235.1 332.3,235.6 333.0,236.1 333.6,236.6 334.2,237.1 334.8,237.6 335.5,238.1 336.1,238.6 336.8,239.0 337.4,239.5 338.0,240.0 338.7,240.5 339.3,241.0 340.0,241.4 340.6,241.9 341.3,242.4 341.9,242.8 342.6,243.3 343.2,243.8 343.9,244.2 344.5,244.6 345.2,245.1 345.9,245.5 346.6,245.8 347.3,246.2 348.1,246.5 348.8,246.9 349.5,247.2 350.2,247.5 351.0,247.8 351.7,248.1 352.5,248.4 353.2,248.7 354.0,249.0 354.7,249.2 355.5,249.5 356.2,249.7 357.0,250.0 357.7,250.3 358.5,250.5 359.3,250.8 360.0,251.1 360.8,251.3 361.5,251.6 362.3,251.8 363.1,252.0 363.8,252.2 364.6,252.3 365.4,252.5 366.2,252.6 367.0,252.8 367.8,252.9 368.6,253.0 369.4,253.1 370.1,253.3 370.9,253.3 371.7,253.4 372.5,253.5 373.3,253.5 374.1,253.6 374.9,253.7 375.7,253.7 376.5,253.8 377.3,253.8 378.1,253.9 378.9,253.9 379.7,253.9 380.5,254.0 381.3,254.0 382.1,254.0 382.9,254.0 383.7,254.0 384.5,254.1 385.3,254.1 386.1,254.1 386.9,254.1 387.7,254.1 388.5,254.1 389.3,254.1 390.1,254.0 390.9,254.0 391.7,254.0 392.5,254.0 393.3,254.0 394.1,254.0 394.9,253.9 395.7,253.9 396.5,253.9 397.3,253.8 398.1,253.8 398.9,253.8 399.7,253.7 400.5,253.7 401.3,253.6 402.1,253.6 402.9,253.5 403.7,253.5 404.5,253.4 405.3,253.4 406.1,253.3 406.9,253.2 407.7,253.2 408.5,253.1 409.3,253.0 410.1,253.0 410.9,252.9 411.7,252.8 412.5,252.8 413.3,252.7 414.1,252.6 414.9,252.5 415.7,252.4 416.4,252.3 417.2,252.2 418.0,252.1 418.8,252.0 419.5,251.9 420.2,251.8 420.7,251.7 421.1,251.7" fill="none" stroke="#0707c6" stroke-width="3.6" stroke-linejoin="round" stroke-linecap="round"/>
<g fill="none">
<line x1="140.6" y1="208.4" x2="140.6" y2="232.8" stroke="#d42a2a" stroke-width="1.4"/>
<line x1="158.5" y1="208.4" x2="158.5" y2="232.8" stroke="#d42a2a" stroke-width="1.4"/>
<line x1="140.6" y1="208.4" x2="158.5" y2="208.4" stroke="#a01c1c" stroke-width="1.4" stroke-dasharray="3.6 2.2"/>
<line x1="200.7" y1="117" x2="259.9" y2="117" stroke="#8b1c1c" stroke-width="1.4" stroke-dasharray="4.3 2.4"/>
</g>
<g font-size="10.8" font-weight="bold" text-anchor="end">
<text x="53.8" y="77.3">0.6</text>
<text x="53.8" y="138.1">0.4</text>
<text x="53.8" y="198.9">0.2</text>
<text x="53.8" y="259.6">0.0</text>
</g>
<g font-size="10.8" font-weight="bold" text-anchor="middle">
<text x="60.3" y="273.4">0</text>
<text x="115.8" y="273.4">100</text>
<text x="171.9" y="273.4">200</text>
<text x="226.9" y="273.4">300</text>
<text x="282.4" y="273.4">400</text>
<text x="338.0" y="273.4">500</text>
<text x="393.5" y="273.4">600</text>
</g>
<text x="241" y="292.6" font-size="13.9" font-weight="bold" text-anchor="middle">Osmolality (mOsm/kg)</text>
<text transform="translate(31.3,148) rotate(-90)" font-size="13.9" font-weight="bold" text-anchor="middle">Elongation Index (EI)</text>
<!-- box labels -->
<g font-weight="bold" fill="#111">
<text x="66.7" y="86.4" font-size="9.8">EI<tspan font-size="7.6" dy="3.2">max</tspan></text>
<text x="66.7" y="118.2" font-size="9.8">EI<tspan font-size="7.6" dy="2.9">O290</tspan></text>
<text x="66.8" y="239.6" font-size="9.8">EI<tspan font-size="7.2" dy="3.2">min</tspan></text>
<text x="149.2" y="246.6" font-size="10.4" text-anchor="middle">O<tspan font-size="7.9" dy="1.8">min</tspan><tspan dy="-1.8">-width</tspan></text>
<text x="230.8" y="246.8" font-size="10.3" text-anchor="middle">O<tspan font-size="7.8" dy="1.8">max</tspan><tspan dy="-1.8">-width</tspan></text>
<text x="296.6" y="247" font-size="10.2">O<tspan font-size="7.6" dy="2.6">hyper</tspan></text>
<text x="138.6" y="271.4" font-size="10.4">O<tspan font-size="7.3" dy="2.2">min</tspan></text>
</g>
<!-- legend -->
<line x1="360" y1="72.5" x2="371.2" y2="72.5" stroke="#d3d3d3" stroke-width="3.8" stroke-linecap="round"/>
<line x1="359.5" y1="93" x2="371.7" y2="93" stroke="#0707c6" stroke-width="3.5" stroke-linecap="round"/>
<g font-size="10.7">
<text x="378.3" y="76.7">Healthy Controls</text>
<text x="378.3" y="96.9">Hereditary Spherocytosis</text>
</g>


<rect x="202.88" y="404.30" width="71.42" height="10.6" fill="#a60000" stroke="#7a0000" stroke-width="1.4"/><g stroke="#8b1a1a" stroke-width="1"><line x1="184.70" y1="409.50" x2="223.10" y2="409.50"/><line x1="184.70" y1="407.60" x2="184.70" y2="411.60"/><line x1="223.10" y1="407.60" x2="223.10" y2="411.60"/></g><line x1="142" y1="409.50" x2="147" y2="409.50" stroke="#000" stroke-width="1.3"/><text x="140.6" y="411.35" font-size="7.2" font-weight="bold" text-anchor="end">EI<tspan font-size="5.7" dy="1.6">max</tspan></text><text x="446.8" y="411.90" font-size="7" text-anchor="end">p< 0.0001</text><rect x="203.13" y="422.78" width="71.17" height="10.6" fill="#b60000" stroke="#7a0000" stroke-width="1.4"/><g stroke="#8b1a1a" stroke-width="1"><line x1="184.70" y1="428.50" x2="223.10" y2="428.50"/><line x1="184.70" y1="426.08" x2="184.70" y2="430.08"/><line x1="223.10" y1="426.08" x2="223.10" y2="430.08"/></g><line x1="142" y1="428.50" x2="147" y2="428.50" stroke="#000" stroke-width="1.3"/><text x="140.6" y="429.83" font-size="7.2" font-weight="bold" text-anchor="end">EI<tspan font-size="5.7" dy="1.6">hyper</tspan></text><text x="446.8" y="430.38" font-size="7" text-anchor="end">p< 0.0001</text><rect x="209.66" y="441.26" width="64.64" height="10.6" fill="#d80000" stroke="#7a0000" stroke-width="1.4"/><g stroke="#8b1a1a" stroke-width="1"><line x1="191.10" y1="446.50" x2="232.06" y2="446.50"/><line x1="191.10" y1="444.56" x2="191.10" y2="448.56"/><line x1="232.06" y1="444.56" x2="232.06" y2="448.56"/></g><line x1="142" y1="446.50" x2="147" y2="446.50" stroke="#000" stroke-width="1.3"/><text x="140.6" y="448.31" font-size="7.2" font-weight="bold" text-anchor="end">AUC</text><text x="446.8" y="448.86" font-size="7" text-anchor="end">p< 0.0001</text><rect x="211.32" y="459.74" width="62.98" height="10.6" fill="#ff0000" stroke="#7a0000" stroke-width="1.4"/><g stroke="#8b1a1a" stroke-width="1"><line x1="192.38" y1="465.50" x2="234.62" y2="465.50"/><line x1="192.38" y1="463.04" x2="192.38" y2="467.04"/><line x1="234.62" y1="463.04" x2="234.62" y2="467.04"/></g><line x1="142" y1="465.50" x2="147" y2="465.50" stroke="#000" stroke-width="1.3"/><text x="140.6" y="466.79" font-size="7.2" font-weight="bold" text-anchor="end">EI<tspan font-size="5.7" dy="1.6">O290</tspan></text><text x="446.8" y="467.34" font-size="7" text-anchor="end">p< 0.0001</text><rect x="221.82" y="478.22" width="52.48" height="10.6" fill="#ff2a2a" stroke="#7a0000" stroke-width="1.4"/><g stroke="#8b1a1a" stroke-width="1"><line x1="200.70" y1="483.50" x2="246.78" y2="483.50"/><line x1="200.70" y1="481.52" x2="200.70" y2="485.52"/><line x1="246.78" y1="481.52" x2="246.78" y2="485.52"/></g><line x1="142" y1="483.50" x2="147" y2="483.50" stroke="#000" stroke-width="1.3"/><text x="140.6" y="485.27" font-size="7.2" font-weight="bold" text-anchor="end">Ht (L/L)</text><text x="446.8" y="485.82" font-size="7" text-anchor="end">p< 0.001</text><rect x="225.02" y="496.70" width="49.28" height="10.6" fill="#ff5555" stroke="#7a0000" stroke-width="1.4"/><g stroke="#8b1a1a" stroke-width="1"><line x1="202.62" y1="502.50" x2="251.26" y2="502.50"/><line x1="202.62" y1="500.00" x2="202.62" y2="504.00"/><line x1="251.26" y1="500.00" x2="251.26" y2="504.00"/></g><line x1="142" y1="502.50" x2="147" y2="502.50" stroke="#000" stroke-width="1.3"/><text x="140.6" y="503.75" font-size="7.2" font-weight="bold" text-anchor="end">EMA (%)</text><text x="446.8" y="504.30" font-size="7" text-anchor="end">p< 0.001</text><rect x="226.94" y="515.18" width="47.36" height="10.6" fill="#ff8080" stroke="#7a0000" stroke-width="1.4"/><g stroke="#8b1a1a" stroke-width="1"><line x1="203.90" y1="520.50" x2="253.18" y2="520.50"/><line x1="203.90" y1="518.48" x2="203.90" y2="522.48"/><line x1="253.18" y1="518.48" x2="253.18" y2="522.48"/></g><line x1="142" y1="520.50" x2="147" y2="520.50" stroke="#000" stroke-width="1.3"/><text x="140.6" y="522.23" font-size="7.2" font-weight="bold" text-anchor="end">O<tspan font-size="5.7" dy="1.6">max</tspan><tspan dy="-1.6">-width (mOsm/kg)</tspan></text><text x="446.8" y="522.78" font-size="7" text-anchor="end">p< 0.001</text><rect x="228.86" y="533.66" width="45.44" height="10.6" fill="#ffa3a3" stroke="#7a0000" stroke-width="1.4"/><g stroke="#8b1a1a" stroke-width="1"><line x1="205.82" y1="538.50" x2="255.10" y2="538.50"/><line x1="205.82" y1="536.96" x2="205.82" y2="540.96"/><line x1="255.10" y1="536.96" x2="255.10" y2="540.96"/></g><line x1="142" y1="538.50" x2="147" y2="538.50" stroke="#000" stroke-width="1.3"/><text x="140.6" y="540.71" font-size="7.2" font-weight="bold" text-anchor="end">RBC count (•10<tspan font-size="5" dy="-2.6">12</tspan><tspan dy="2.6">/L)</tspan></text><text x="446.8" y="541.26" font-size="7" text-anchor="end">p< 0.001</text><rect x="229.50" y="552.14" width="44.80" height="10.6" fill="#ffd6d6" stroke="#7a0000" stroke-width="1.4"/><g stroke="#8b1a1a" stroke-width="1"><line x1="206.46" y1="557.50" x2="255.74" y2="557.50"/><line x1="206.46" y1="555.44" x2="206.46" y2="559.44"/><line x1="255.74" y1="555.44" x2="255.74" y2="559.44"/></g><line x1="142" y1="557.50" x2="147" y2="557.50" stroke="#000" stroke-width="1.3"/><text x="140.6" y="559.19" font-size="7.2" font-weight="bold" text-anchor="end">Hb (g/dL)</text><text x="446.8" y="559.74" font-size="7" text-anchor="end">p< 0.001</text><rect x="274.30" y="570.62" width="40.58" height="10.6" fill="#e2ebfa" stroke="#1b2378" stroke-width="1.4"/><g stroke="#1b2378" stroke-width="1"><line x1="288.00" y1="575.50" x2="338.30" y2="575.50"/><line x1="288.00" y1="573.92" x2="288.00" y2="577.92"/><line x1="338.30" y1="573.92" x2="338.30" y2="577.92"/></g><line x1="142" y1="575.50" x2="147" y2="575.50" stroke="#000" stroke-width="1.3"/><text x="140.6" y="577.67" font-size="7.2" font-weight="bold" text-anchor="end">O<tspan font-size="5.7" dy="1.6">min</tspan><tspan dy="-1.6"> (mOsm/kg)</tspan></text><text x="446.8" y="578.22" font-size="7" text-anchor="end">p< 0.01</text><rect x="274.30" y="589.10" width="49.54" height="10.6" fill="#c4d6f6" stroke="#1b2378" stroke-width="1.4"/><g stroke="#1b2378" stroke-width="1"><line x1="297.98" y1="594.50" x2="346.62" y2="594.50"/><line x1="297.98" y1="592.40" x2="297.98" y2="596.40"/><line x1="346.62" y1="592.40" x2="346.62" y2="596.40"/></g><line x1="142" y1="594.50" x2="147" y2="594.50" stroke="#000" stroke-width="1.3"/><text x="140.6" y="596.15" font-size="7.2" font-weight="bold" text-anchor="end">O<tspan font-size="5.7" dy="1.6">min</tspan><tspan dy="-1.6">-width (mOsm/kg)</tspan></text><text x="446.8" y="596.70" font-size="7" text-anchor="end">p< 0.001</text><rect x="274.30" y="607.58" width="50.30" height="10.6" fill="#a2c1f6" stroke="#1b2378" stroke-width="1.4"/><g stroke="#1b2378" stroke-width="1"><line x1="299.00" y1="612.50" x2="346.62" y2="612.50"/><line x1="299.00" y1="610.88" x2="299.00" y2="614.88"/><line x1="346.62" y1="610.88" x2="346.62" y2="614.88"/></g><line x1="142" y1="612.50" x2="147" y2="612.50" stroke="#000" stroke-width="1.3"/><text x="140.6" y="614.63" font-size="7.2" font-weight="bold" text-anchor="end">IRF</text><text x="446.8" y="615.18" font-size="7" text-anchor="end">p< 0.001</text><rect x="274.30" y="626.06" width="60.54" height="10.6" fill="#3c89f7" stroke="#1b2378" stroke-width="1.4"/><g stroke="#1b2378" stroke-width="1"><line x1="310.52" y1="631.50" x2="355.20" y2="631.50"/><line x1="310.52" y1="629.36" x2="310.52" y2="633.36"/><line x1="355.20" y1="629.36" x2="355.20" y2="633.36"/></g><line x1="142" y1="631.50" x2="147" y2="631.50" stroke="#000" stroke-width="1.3"/><text x="140.6" y="633.11" font-size="7.2" font-weight="bold" text-anchor="end">RPI</text><text x="446.8" y="633.66" font-size="7" text-anchor="end">p< 0.0001</text><rect x="274.30" y="644.54" width="77.57" height="10.6" fill="#1b6cf0" stroke="#1b2378" stroke-width="1.4"/><g stroke="#1b2378" stroke-width="1"><line x1="331.13" y1="649.50" x2="368.38" y2="649.50"/><line x1="331.13" y1="647.84" x2="331.13" y2="651.84"/><line x1="368.38" y1="647.84" x2="368.38" y2="651.84"/></g><line x1="142" y1="649.50" x2="147" y2="649.50" stroke="#000" stroke-width="1.3"/><text x="140.6" y="651.59" font-size="7.2" font-weight="bold" text-anchor="end">RDW (%CV)</text><text x="446.8" y="652.14" font-size="7" text-anchor="end">p< 0.0001</text><rect x="274.30" y="663.02" width="79.23" height="10.6" fill="#0610d6" stroke="#1b2378" stroke-width="1.4"/><g stroke="#1b2378" stroke-width="1"><line x1="352.64" y1="668.50" x2="369.02" y2="668.50"/><line x1="352.64" y1="666.32" x2="352.64" y2="670.32"/><line x1="369.02" y1="666.32" x2="369.02" y2="670.32"/></g><line x1="142" y1="668.50" x2="147" y2="668.50" stroke="#000" stroke-width="1.3"/><text x="140.6" y="670.07" font-size="7.2" font-weight="bold" text-anchor="end">RET count (•10<tspan font-size="5" dy="-2.6">9</tspan><tspan dy="2.6">/L)</tspan></text><text x="446.8" y="670.62" font-size="7" text-anchor="end">p< 0.0001</text><rect x="274.30" y="681.50" width="82.94" height="10.6" fill="#060eb4" stroke="#1b2378" stroke-width="1.4"/><g stroke="#1b2378" stroke-width="1"><line x1="356.86" y1="686.50" x2="372.86" y2="686.50"/><line x1="356.86" y1="684.80" x2="356.86" y2="688.80"/><line x1="372.86" y1="684.80" x2="372.86" y2="688.80"/></g><line x1="142" y1="686.50" x2="147" y2="686.50" stroke="#000" stroke-width="1.3"/><text x="140.6" y="688.55" font-size="7.2" font-weight="bold" text-anchor="end">RET (%)</text><text x="446.8" y="689.10" font-size="7" text-anchor="end">p< 0.0001</text>
<g stroke="#000" stroke-width="1.3">
<line x1="147" y1="397.5" x2="147" y2="699.3"/>
<line x1="274.3" y1="397.5" x2="274.3" y2="699"/>
<line x1="146.4" y1="698.7" x2="402.3" y2="698.7"/>
<line x1="146.30" y1="698.7" x2="146.30" y2="703.2"/><line x1="152.70" y1="698.7" x2="152.70" y2="701.5"/><line x1="159.10" y1="698.7" x2="159.10" y2="701.5"/><line x1="165.50" y1="698.7" x2="165.50" y2="701.5"/><line x1="171.90" y1="698.7" x2="171.90" y2="701.5"/><line x1="178.30" y1="698.7" x2="178.30" y2="701.5"/><line x1="184.70" y1="698.7" x2="184.70" y2="701.5"/><line x1="191.10" y1="698.7" x2="191.10" y2="701.5"/><line x1="197.50" y1="698.7" x2="197.50" y2="701.5"/><line x1="203.90" y1="698.7" x2="203.90" y2="701.5"/><line x1="210.30" y1="698.7" x2="210.30" y2="703.2"/><line x1="216.70" y1="698.7" x2="216.70" y2="701.5"/><line x1="223.10" y1="698.7" x2="223.10" y2="701.5"/><line x1="229.50" y1="698.7" x2="229.50" y2="701.5"/><line x1="235.90" y1="698.7" x2="235.90" y2="701.5"/><line x1="242.30" y1="698.7" x2="242.30" y2="701.5"/><line x1="248.70" y1="698.7" x2="248.70" y2="701.5"/><line x1="255.10" y1="698.7" x2="255.10" y2="701.5"/><line x1="261.50" y1="698.7" x2="261.50" y2="701.5"/><line x1="267.90" y1="698.7" x2="267.90" y2="701.5"/><line x1="274.30" y1="698.7" x2="274.30" y2="703.2"/><line x1="280.70" y1="698.7" x2="280.70" y2="701.5"/><line x1="287.10" y1="698.7" x2="287.10" y2="701.5"/><line x1="293.50" y1="698.7" x2="293.50" y2="701.5"/><line x1="299.90" y1="698.7" x2="299.90" y2="701.5"/><line x1="306.30" y1="698.7" x2="306.30" y2="701.5"/><line x1="312.70" y1="698.7" x2="312.70" y2="701.5"/><line x1="319.10" y1="698.7" x2="319.10" y2="701.5"/><line x1="325.50" y1="698.7" x2="325.50" y2="701.5"/><line x1="331.90" y1="698.7" x2="331.90" y2="701.5"/><line x1="338.30" y1="698.7" x2="338.30" y2="703.2"/><line x1="344.70" y1="698.7" x2="344.70" y2="701.5"/><line x1="351.10" y1="698.7" x2="351.10" y2="701.5"/><line x1="357.50" y1="698.7" x2="357.50" y2="701.5"/><line x1="363.90" y1="698.7" x2="363.90" y2="701.5"/><line x1="370.30" y1="698.7" x2="370.30" y2="701.5"/><line x1="376.70" y1="698.7" x2="376.70" y2="701.5"/><line x1="383.10" y1="698.7" x2="383.10" y2="701.5"/><line x1="389.50" y1="698.7" x2="389.50" y2="701.5"/><line x1="395.90" y1="698.7" x2="395.90" y2="701.5"/><line x1="402.30" y1="698.7" x2="402.30" y2="703.2"/>
</g>
<g font-size="7" font-weight="bold" text-anchor="middle">
<text x="146.60" y="711.4">-1.0</text>
<text x="210.60" y="711.4">-0.5</text>
<text x="274.30" y="711.4">0.0</text>
<text x="338.30" y="711.4">0.5</text>
<text x="402.30" y="711.4">1.0</text>
</g>
<text x="272.9" y="723.2" font-size="8.2" font-weight="bold" text-anchor="middle">Correlation coëfficient for disease severity (95% CI)</text>

</svg>
<div class="cl j" style="left:5.8px;top:304.00px;width:506.8px">Figure 1 - Example of osmotic gradient ektacytometry (osmoscan) curve, displaying both the curves of healthy controls (N=30) and of a</div>
<div class="cl j" style="left:5.8px;top:314.10px;width:506.8px">hereditary spherocytosis (HS) patient. The curve follows the elongation index (EI), representing red blood cell (RBC) deformability, under</div>
<div class="cl j" style="left:5.8px;top:324.10px;width:506.8px">an increasing osmotic gradient. Commonly used parameters include EI<sub>max</sub> (maximal deformability of the RBC), O<sub>min</sub> (osmolality at the</div>
<div class="cl j" style="left:5.8px;top:334.80px;width:506.8px">minimal EI) and O<sub>hyper</sub> (osmolality at 50% of the EI<sub>max</sub> in the hypertonic region). We also investigated three novel osmoscan parameters:</div>
<div class="cl j" style="left:5.8px;top:345.80px;width:506.8px">EI<sub>O290</sub>, the EI at physiologic isotonicity and both the O<sub>min</sub>-width and O<sub>max</sub>-width, defined as the difference in osmolality between the</div>
<div class="cl" style="left:5.8px;top:357.00px;width:506.8px">intersection points of y=EI<sub>min</sub> or EI<sub>max</sub> +/- 0.05 and the osmoscan curve.</div>
<div class="cl j" style="left:4.8px;top:733.70px;width:510.6px">Figure 2 – Overview of significant correlations between various biomarkers and clinical severity in our cohort of patients with hereditary</div>
<div class="cl" style="left:4.8px;top:743.50px;width:510.6px">spherocytosis.</div>
<div class="cl j" style="left:4.8px;top:753.20px;width:510.6px">AUC area under the curve ; CI confidende interval ; EI elongation index ; EMA eosin-5’-maleimide ; Hb hemoglobin ; Ht hematocrit ;&nbsp; IRF</div>
<div class="cl j" style="left:4.8px;top:763.40px;width:510.6px">immature reticulocyte fraction ; RBC red blood cell ; RDW red blood cell distribution width ; RET reticulocyte ; RPI reticulocyte production</div>
<div class="cl" style="left:4.8px;top:773.50px;width:510.6px">index.</div>
</body></html>
